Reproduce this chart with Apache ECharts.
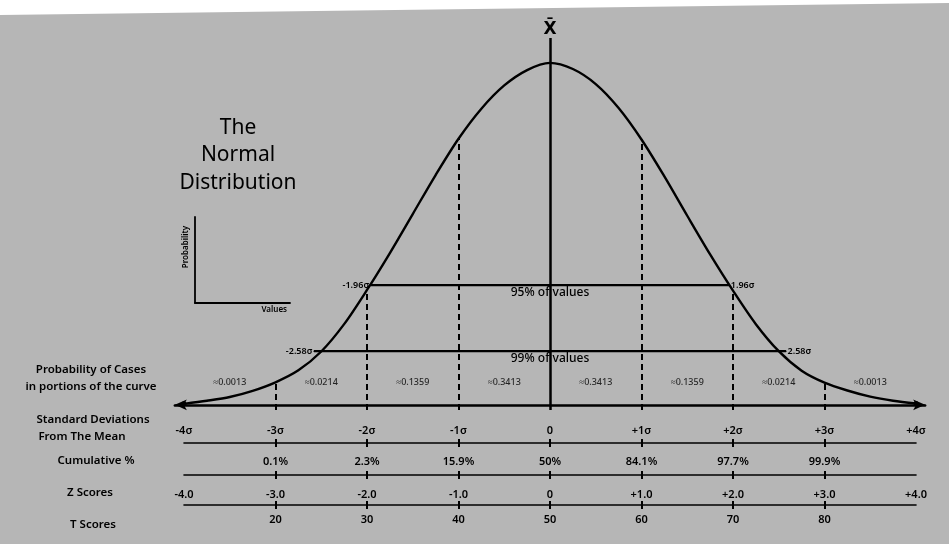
<!DOCTYPE html>
<html>
<head>
<meta charset="utf-8">
<script src="https://cdn.jsdelivr.net/npm/echarts@6/dist/echarts.min.js"></script>
<style>html,body{margin:0;padding:0;background:#b6b6b6;}#c{width:949px;height:544px;}</style>
</head>
<body>
<div id="c"></div>
<script>
// ---- data ----
const sigmaSteps = [-4,-3.75,-3.5,-3.25,-3,-2.75,-2.5,-2.25,-2,-1.75,-1.5,-1.25,-1,-0.75,-0.5,-0.25,0,
  0.25,0.5,0.75,1,1.25,1.5,1.75,2,2.25,2.5,2.75,3,3.25,3.5,3.75,4];
const curveHeights = [0.003,0.012,0.023,0.041,0.066,0.101,0.156,0.236,0.336,0.444,0.558,0.672,0.778,0.866,0.934,0.979,1.0,
  0.982,0.938,0.868,0.776,0.668,0.553,0.440,0.334,0.236,0.157,0.100,0.065,0.042,0.024,0.012,0.004];
const dashedAt = [-3,-2,-1,1,2,3];
const intervalZ = [1.96, 2.58];
const intervalHeights = [0.35, 0.157];
const intervalNames = ['95% of values', '99% of values'];
const intervalSideLabels = [['-1.96σ','1.96σ'], ['-2.58σ','2.58σ']];
const probMid = [-3.5,-2.5,-1.5,-0.5,0.5,1.5,2.5,3.5];
const probLabels = ['≈0.0013','≈0.0214','≈0.1359','≈0.3413','≈0.3413','≈0.1359','≈0.0214','≈0.0013'];
const sdTicks = [-4,-3,-2,-1,0,1,2,3,4];
const sdLabels = ['-4σ','-3σ','-2σ','-1σ','0','+1σ','+2σ','+3σ','+4σ'];
const innerTicks = [-3,-2,-1,0,1,2,3];
const cumLabels = ['0.1%','2.3%','15.9%','50%','84.1%','97.7%','99.9%'];
const zLabels = ['-4.0','-3.0','-2.0','-1.0','0','+1.0','+2.0','+3.0','+4.0'];
const tLabels = ['20','30','40','50','60','70','80'];
const meanTop = 1.073;

// ---- chart ----
const FONT = 'Noto Sans';
const ink = '#000';
const axisMin = -0.015;
const heightAt = s => curveHeights[sigmaSteps.indexOf(s)];
const lbl = (ticks, labels) => v => { const i = ticks.indexOf(Math.round(v)); return i < 0 ? '' : labels[i]; };

const hidY = (gi, min, max) => ({gridIndex: gi, type: 'value', min: min, max: max, show: false});
function rowAxis(gi, ticks, labels, tickValues, inside, margin, showLine) {
  return {
    gridIndex: gi, type: 'value', min: -4, max: 4, position: 'bottom',
    axisLine: {show: showLine, lineStyle: {color: ink, width: 1.6}},
    axisTick: {show: true, inside: inside, length: 4, customValues: tickValues, lineStyle: {color: ink, width: 2}},
    axisLabel: labels ? {show: true, inside: inside, margin: margin, customValues: ticks, formatter: lbl(ticks, labels),
      color: ink, fontFamily: FONT, fontSize: 11, fontWeight: 600, showMinLabel: true, showMaxLabel: true} : {show: false},
    splitLine: {show: false}
  };
}

const series = [];
series.push({
  type: 'line', xAxisIndex: 0, yAxisIndex: 0, smooth: 0.3,
  data: sigmaSteps.map((s, i) => [s, curveHeights[i]]),
  showSymbol: true, symbol: 'circle',
  symbolSize: (v, p) => (p.dataIndex === 0 || p.dataIndex === sigmaSteps.length - 1) ? 5 : 0,
  itemStyle: {color: ink}, lineStyle: {color: ink, width: 2.4}, z: 5,
  markLine: {
    silent: true, symbol: ['none','none'], animation: false,
    data: [
      [{coord: [0, axisMin], lineStyle: {type: 'solid', width: 2.5, color: ink}},
       {coord: [0, meanTop], label: {show: true, position: 'end', formatter: 'X̄', color: ink, fontFamily: 'DejaVu Sans', fontSize: 17, fontWeight: 600, distance: 0}}]
    ].concat(dashedAt.map(s => [
      {coord: [s, axisMin], lineStyle: {type: [6, 4], width: 2, color: ink}, label: {show: false}},
      {coord: [s, heightAt(s)]}
    ])),
    label: {show: false}
  }
});
intervalZ.forEach((z, k) => {
  const h = intervalHeights[k];
  series.push({
    type: 'line', xAxisIndex: 0, yAxisIndex: 0,
    data: [
      {value: [-z, h], label: {show: true, position: 'left', distance: 1, formatter: intervalSideLabels[k][0]}},
      {value: [z, h], label: {show: true, position: 'right', distance: 1, formatter: intervalSideLabels[k][1]}}
    ],
    symbol: 'circle', symbolSize: 1, itemStyle: {color: ink},
    lineStyle: {color: ink, width: 2}, z: 4,
    label: {color: ink, fontFamily: FONT, fontSize: 9, fontWeight: 600},
    markLine: {
      silent: true, symbol: ['none','none'], animation: false,
      lineStyle: {color: ink, width: 2, type: 'solid'},
      label: {show: true, position: 'insideMiddleBottom', distance: 1, formatter: intervalNames[k],
        color: ink, fontFamily: FONT, fontSize: 12, fontWeight: 500},
      data: [[{coord: [-z, h]}, {coord: [z, h]}]]
    }
  });
});
series.push({
  type: 'scatter', xAxisIndex: 0, yAxisIndex: 0,
  data: probMid.map((m, i) => ({value: [m, 0.067], label: {formatter: probLabels[i]}})),
  symbolSize: 0, silent: true,
  label: {show: true, position: 'inside', color: ink, fontFamily: FONT, fontSize: 9, fontWeight: 500}
});

const option = {
  backgroundColor: '#b6b6b6',
  animation: false,
  grid: [
    {left: 174.85, right: 23.85, top: 28.67, bottom: 134},
    {left: 184, right: 33, top: 433, bottom: 101},
    {left: 184, right: 33, top: 465, bottom: 69},
    {left: 184, right: 33, top: 495, bottom: 39},
    {left: 195, top: 217, width: 95, height: 86}
  ],
  xAxis: [
    {gridIndex: 0, type: 'value', min: -4.1, max: 4.1,
      axisLine: {show: true, symbol: ['arrow','arrow'], symbolSize: [8, 12], lineStyle: {color: ink, width: 2.5}},
      axisTick: {show: false}, axisLabel: {show: false}, splitLine: {show: false}},
    rowAxis(1, sdTicks, sdLabels, innerTicks, true, 7, true),
    rowAxis(1, null, null, innerTicks, false, 0, false),
    rowAxis(2, innerTicks, cumLabels, innerTicks, true, 8, true),
    rowAxis(2, null, null, innerTicks, false, 0, false),
    rowAxis(3, sdTicks, zLabels, innerTicks, true, 5, true),
    rowAxis(3, innerTicks, tLabels, innerTicks, false, 9, false),
    {gridIndex: 4, type: 'value', min: 0, max: 1, name: 'Values', nameLocation: 'end', nameGap: -3,
      nameTextStyle: {align: 'right', verticalAlign: 'top', padding: [3, 0, 0, 0], color: ink, fontFamily: FONT, fontSize: 8, fontWeight: 600},
      axisLine: {lineStyle: {color: ink, width: 1.8}}, axisTick: {show: false}, axisLabel: {show: false}, splitLine: {show: false}}
  ],
  yAxis: [
    hidY(0, axisMin, 1.1), hidY(1, 0, 1), hidY(2, 0, 1), hidY(3, 0, 1),
    {gridIndex: 4, type: 'value', min: 0, max: 1, name: 'Probability', nameLocation: 'middle', nameRotate: 90, nameGap: 5,
      nameTextStyle: {color: ink, fontFamily: FONT, fontSize: 8, fontWeight: 600, padding: [0, 0, 0, 26]},
      axisLine: {show: true, lineStyle: {color: ink, width: 1.8}}, axisTick: {show: false}, axisLabel: {show: false}, splitLine: {show: false}}
  ],
  series: series,
  graphic: [
    {type: 'polygon', shape: {points: [[0,0],[949,0],[949,3],[0,15]]}, style: {fill: '#ffffff'}, silent: true, z: -1},
    {type: 'text', x: 238, y: 114, style: {text: 'The\nNormal\nDistribution', fill: ink, font: '400 21px "Noto Sans"', align: 'center', lineHeight: 27.5}},
    {type: 'text', x: 91, y: 361, style: {text: 'Probability of Cases\nin portions of the curve', fill: ink, font: '600 11.5px "Noto Sans"', align: 'center', lineHeight: 17}},
    {type: 'text', x: 93, y: 414, style: {text: 'Standard Deviations', fill: ink, font: '600 11.5px "Noto Sans"', align: 'center'}},
    {type: 'text', x: 82, y: 431, style: {text: 'From The Mean', fill: ink, font: '600 11.5px "Noto Sans"', align: 'center'}},
    {type: 'text', x: 96, y: 455, style: {text: 'Cumulative %', fill: ink, font: '600 11.5px "Noto Sans"', align: 'center'}},
    {type: 'text', x: 90, y: 487, style: {text: 'Z Scores', fill: ink, font: '600 11.5px "Noto Sans"', align: 'center'}},
    {type: 'text', x: 93, y: 519, style: {text: 'T Scores', fill: ink, font: '600 11.5px "Noto Sans"', align: 'center'}}
  ]
};
const chart = echarts.init(document.getElementById('c'), null, {renderer: 'canvas'});
chart.setOption(option);
</script>
</body>
</html>
